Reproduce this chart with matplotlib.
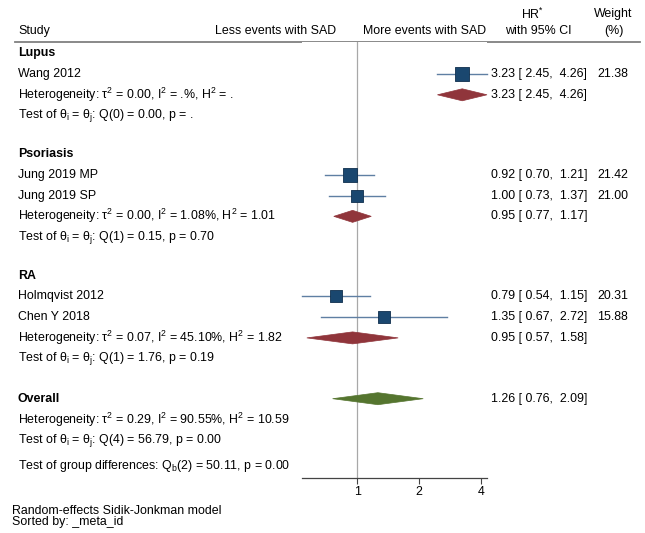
import matplotlib
matplotlib.use("Agg")
import numpy as np
import matplotlib.pyplot as plt
from matplotlib.patches import Polygon

plt.rcParams["font.family"] = ["Liberation Sans", "DejaVu Sans"]
plt.rcParams["mathtext.fontset"] = "custom"
plt.rcParams["mathtext.rm"] = "Liberation Sans"
plt.rcParams["mathtext.it"] = "Liberation Sans"
plt.rcParams["mathtext.default"] = "regular"

# study level data
groups = ["Lupus", "Psoriasis", "RA"]
studies = ["Wang 2012", "Jung 2019 MP", "Jung 2019 SP", "Holmqvist 2012", "Chen Y 2018"]
study_group = [0, 1, 1, 2, 2]
hr = [3.23, 0.92, 1.00, 0.79, 1.35]
lo = [2.45, 0.70, 0.73, 0.54, 0.67]
hi = [4.26, 1.21, 1.37, 1.15, 2.72]
weight = [21.38, 21.42, 21.00, 20.31, 15.88]

# subgroup summaries
sub_hr = [3.23, 0.95, 0.95]
sub_lo = [2.45, 0.77, 0.57]
sub_hi = [4.26, 1.17, 1.58]
sub_tau2 = ["0.00", "0.00", "0.07"]
sub_i2 = [".", "1.08", "45.10"]
sub_h2 = [".", "1.01", "1.82"]
sub_qdf = [0, 1, 1]
sub_q = ["0.00", "0.15", "1.76"]
sub_p = [".", "0.70", "0.19"]

# overall
ov_hr, ov_lo, ov_hi = 1.26, 0.76, 2.09
ov_tau2, ov_i2, ov_h2 = "0.29", "90.55", "10.59"
ov_qdf, ov_q, ov_p = 4, "56.79", "0.00"
qb_df, qb, qb_p = 2, "50.11", "0.00"

xticks = [1, 2, 4]

FS = 8.9
NAVY = "#1a476f"
CI_COL = "#5f7fa3"
MAROON = "#90353b"
GREEN = "#55752f"


def ci_text(e, l, u):
    return f"{e:.2f} [ {l:.2f},  {u:.2f}]"


def het_text(t, i, h):
    return f"Heterogeneity: $\\tau^2$ = {t}, $I^2$ = {i}%, $H^2$ = {h}"


def q_text(df, q, p):
    return f"Test of $\\theta_i$ = $\\theta_j$: Q({df}) = {q}, p = {p}"


fig = plt.figure(figsize=(6.45, 5.33), dpi=100)
tx = fig.add_axes([0, 0, 1, 1])
tx.set_xlim(0, 645)
tx.set_ylim(533, 0)
tx.axis("off")

ax = fig.add_axes([302 / 645, (533 - 478) / 533, 185 / 645, 436 / 533])
ax.set_xscale("log")
ax.set_xlim(min(lo), max(hi))
ax.set_ylim(478, 42)
for s in ["left", "right", "top"]:
    ax.spines[s].set_visible(False)
ax.spines["bottom"].set_color("#444444")
ax.spines["bottom"].set_linewidth(0.9)
ax.set_yticks([])
ax.set_xticks(xticks)
ax.set_xticklabels([str(t) for t in xticks], fontsize=FS)
ax.minorticks_off()
ax.tick_params(axis="x", length=4, width=0.8, color="#444444", pad=2)
ax.axvline(1, color="#a8a8a8", lw=0.9, zorder=0)

# header
tx.text(18, 31, "Study", fontsize=FS, va="center")
tx.text(336, 31, "Less events with SAD", fontsize=FS, va="center", ha="right")
tx.text(363, 31, "More events with SAD", fontsize=FS, va="center", ha="left")
tx.text(533, 14, "HR$^{*}$", fontsize=FS, va="center", ha="center")
tx.text(538, 31, "with 95% CI", fontsize=FS, va="center", ha="center")
tx.text(613, 14, "Weight", fontsize=FS, va="center", ha="center")
tx.text(614, 31, "(%)", fontsize=FS, va="center", ha="center")
tx.plot([15, 640], [41.7, 41.7], color="#808080", lw=1.3)

step = 20.75
y = 53.3
x_label = 18
x_ci = 491
x_w = 628


def diamond(yc, e, l, u, color):
    poly = Polygon([[l, yc], [e, yc - 6], [u, yc], [e, yc + 6]], closed=True,
                   facecolor=color, edgecolor=color, lw=0.5, clip_on=False, zorder=3)
    ax.add_patch(poly)


for g, name in enumerate(groups):
    tx.text(x_label, y, name, fontsize=FS, fontweight="bold", va="center")
    for k in range(len(studies)):
        if study_group[k] != g:
            continue
        y += step
        tx.text(x_label, y, studies[k], fontsize=FS, va="center")
        ax.plot([lo[k], hi[k]], [y, y], color=CI_COL, lw=1.0, clip_on=False, zorder=2)
        ax.scatter([hr[k]], [y], marker="s", s=4.1 * weight[k], color=NAVY,
                   edgecolors="#0f2f4d", linewidths=0.6, clip_on=False, zorder=4)
        tx.text(x_ci, y, ci_text(hr[k], lo[k], hi[k]), fontsize=FS, va="center")
        tx.text(x_w, y, f"{weight[k]:.2f}", fontsize=FS, va="center", ha="right")
    y += step
    tx.text(x_label, y, het_text(sub_tau2[g], sub_i2[g], sub_h2[g]), fontsize=FS, va="center")
    diamond(y, sub_hr[g], sub_lo[g], sub_hi[g], MAROON)
    tx.text(x_ci, y, ci_text(sub_hr[g], sub_lo[g], sub_hi[g]), fontsize=FS, va="center")
    y += step
    tx.text(x_label, y, q_text(sub_qdf[g], sub_q[g], sub_p[g]), fontsize=FS, va="center")
    y += step + (17.8 if g < len(groups) - 1 else 19.3)

tx.text(x_label, y, "Overall", fontsize=FS, fontweight="bold", va="center")
diamond(y, ov_hr, ov_lo, ov_hi, GREEN)
tx.text(x_ci, y, ci_text(ov_hr, ov_lo, ov_hi), fontsize=FS, va="center")
y += step
tx.text(x_label, y, het_text(ov_tau2, ov_i2, ov_h2), fontsize=FS, va="center")
y += step
tx.text(x_label, y, q_text(ov_qdf, ov_q, ov_p), fontsize=FS, va="center")
y += 26
tx.text(x_label, y, f"Test of group differences: $Q_b$({qb_df}) = {qb}, p = {qb_p}",
        fontsize=FS, va="center")

tx.text(12, 516.5, "Random-effects Sidik-Jonkman model\nSorted by: _meta_id",
        fontsize=FS, va="center", linespacing=0.82)

fig.savefig("out.png", dpi=100)
